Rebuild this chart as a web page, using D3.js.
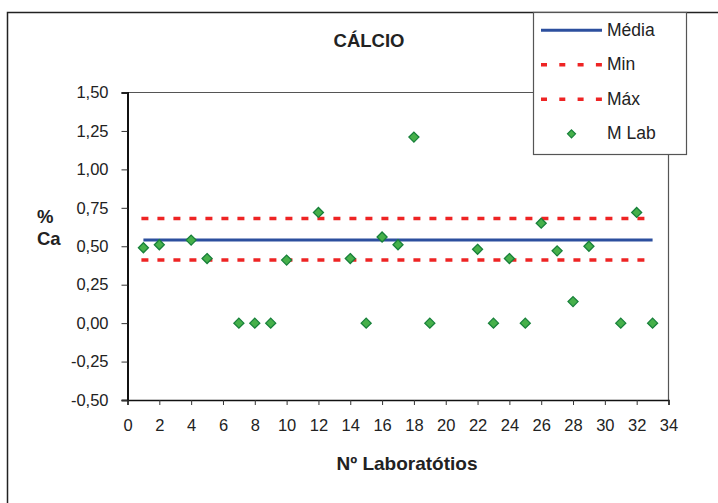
<!DOCTYPE html>
<html>
<head>
<meta charset="utf-8">
<script src="https://cdn.jsdelivr.net/npm/d3@7"></script>
<style>
  body { margin: 0; background: #fff; }
  svg { display: block; font-family: "Liberation Sans", Arial, sans-serif; }
</style>
</head>
<body>
<script>
// chart data
var labs = [1, 2, 4, 5, 7, 8, 9, 10, 12, 14, 15, 16, 17, 18, 19, 22, 23, 24, 25, 26, 27, 28, 29, 31, 32, 33];
var values = [0.49, 0.51, 0.54, 0.42, 0, 0, 0, 0.41, 0.72, 0.42, 0, 0.56, 0.51, 1.21, 0, 0.48, 0, 0.42, 0, 0.65, 0.47, 0.14, 0.50, 0, 0.72, 0];
var refNames = ["Média", "Min", "Máx"];
var refValues = [0.54, 0.41, 0.68];
var refRange = [1, 33];
var xTicks = d3.range(0, 35, 2);
var yTicks = [-0.5, -0.25, 0, 0.25, 0.5, 0.75, 1, 1.25, 1.5];

var width = 718, height = 503;
var svg = d3.select("body").append("svg").attr("width", width).attr("height", height);

// outer chart frame
svg.append("rect").attr("x", 7.5).attr("y", 12.5).attr("width", 730).attr("height", 520)
  .attr("fill", "none").attr("stroke", "#222").attr("stroke-width", 1.5);

var x = d3.scaleLinear().domain([0, 34]).range([127.5, 668.5]);
var y = d3.scaleLinear().domain([-0.5, 1.5]).range([400, 92.5]);
// comma decimals, plain hyphen for negatives
var fmt = function(d) { return d.toFixed(2).replace(".", ","); };

// plot area border (top/right)
svg.append("path")
  .attr("d", "M" + x(0) + "," + y(1.5) + "H" + x(34) + "V" + y(-0.5))
  .attr("fill", "none").attr("stroke", "#555").attr("stroke-width", 1.2);

// y axis
var yAxis = svg.append("g").attr("transform", "translate(" + x(0) + ",0)")
  .call(d3.axisLeft(y).tickValues(yTicks).tickFormat(fmt).tickSize(6).tickPadding(13));
yAxis.select(".domain").attr("stroke", "#111").attr("stroke-width", 2);
yAxis.selectAll(".tick line").attr("stroke", "#333");
yAxis.selectAll("text").attr("font-size", 16.5).attr("fill", "#222").attr("font-family", "Liberation Sans, Arial");

// x axis
var xAxis = svg.append("g").attr("transform", "translate(0," + y(-0.5) + ")")
  .call(d3.axisBottom(x).tickValues(xTicks).tickFormat(d3.format("d")).tickSize(5).tickPadding(14));
xAxis.select(".domain").attr("stroke", "#111").attr("stroke-width", 1.5);
xAxis.selectAll(".tick line").attr("stroke", "#333");
xAxis.selectAll("text").attr("font-size", 16.5).attr("fill", "#222").attr("font-family", "Liberation Sans, Arial");

// reference lines
var refColors = ["#2c4f9e", "#ee2424", "#ee2424"];
var refDash = [null, "7,9", "7,9"];
svg.selectAll(".ref").data(refValues).enter().append("line")
  .attr("class", "ref")
  .attr("x1", function(d, i) { return x(refRange[0]) - (i ? 2 : 0); })
  .attr("x2", x(refRange[1]))
  .attr("y1", function(d) { return y(d); })
  .attr("y2", function(d) { return y(d); })
  .attr("stroke", function(d, i) { return refColors[i]; })
  .attr("stroke-width", function(d, i) { return i ? 3.5 : 3; })
  .attr("stroke-dasharray", function(d, i) { return refDash[i]; });

// lab points
var diamond = function(s) { return "M0," + -s + "L" + s + ",0L0," + s + "L" + -s + ",0Z"; };
svg.selectAll(".pt").data(labs).enter().append("path")
  .attr("class", "pt")
  .attr("transform", function(d, i) { return "translate(" + x(d) + "," + y(values[i]) + ")"; })
  .attr("d", diamond(5))
  .attr("fill", "#46b04a").attr("stroke", "#17803a").attr("stroke-width", 1.3);

// titles
svg.append("text").attr("x", 369).attr("y", 47).attr("text-anchor", "middle")
  .attr("font-size", 18.5).attr("font-weight", "bold").attr("fill", "#222").text("CÁLCIO");
svg.append("text").attr("x", 407).attr("y", 470).attr("text-anchor", "middle")
  .attr("font-size", 19).attr("font-weight", "bold").attr("fill", "#222").text("Nº Laboratótios");
svg.append("text").attr("x", 37).attr("y", 223)
  .attr("font-size", 18.5).attr("font-weight", "bold").attr("fill", "#222").text("%");
svg.append("text").attr("x", 37).attr("y", 245)
  .attr("font-size", 18.5).attr("font-weight", "bold").attr("fill", "#222").text("Ca");

// legend
var lg = svg.append("g");
lg.append("rect").attr("x", 533.5).attr("y", 12.5).attr("width", 153).attr("height", 142)
  .attr("fill", "#fff").attr("stroke", "#555").attr("stroke-width", 1.2);
var legendNames = refNames.concat(["M Lab"]);
legendNames.forEach(function(name, i) {
  var cy = 30.3 + i * 34.5;
  if (i < 3) {
    lg.append("line").attr("x1", 541).attr("x2", 602).attr("y1", cy).attr("y2", cy)
      .attr("stroke", refColors[i]).attr("stroke-width", i ? 3.5 : 3)
      .attr("stroke-dasharray", i ? "6,12.3" : null);
  } else {
    lg.append("path").attr("transform", "translate(571.5," + cy + ")").attr("d", diamond(4))
      .attr("fill", "#46b04a").attr("stroke", "#17803a").attr("stroke-width", 1.2);
  }
  lg.append("text").attr("x", 607).attr("y", cy + 4 + 1.5).attr("font-size", 17.5)
    .attr("fill", "#222").text(name);
});
</script>
</body>
</html>
